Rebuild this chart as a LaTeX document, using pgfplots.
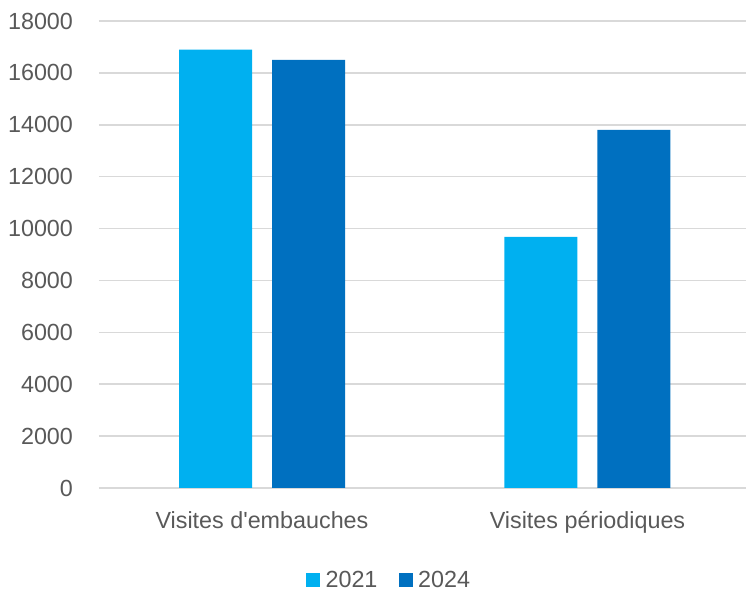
\documentclass[border=0pt]{standalone}
\usepackage{pgfplots}
\pgfplotsset{compat=1.18}
\usepackage{fontspec}
\setmainfont{Liberation Sans}
\definecolor{c21}{HTML}{00B0F0}
\definecolor{c24}{HTML}{0070C0}
\definecolor{txt}{HTML}{595959}
\definecolor{grd}{HTML}{D9D9D9}
\begin{document}
\begin{tikzpicture}
\useasboundingbox (-74.25pt,-77.25pt) rectangle (485.25pt,366pt);
\begin{axis}[
  at={(0,0)}, anchor=south west,
  scale only axis,
  width=485.25pt, height=350.25pt,
  ybar,
  bar width=54.75pt,
  ymin=0, ymax=18000,
  ytick={0,2000,...,18000},
  scaled y ticks=false,
  xmin=-0.5008, xmax=1.487,
  xtick={0,1},
  xticklabels={Visites d\textquotesingle embauches, Visites périodiques},
  axis line style={draw=none},
  major tick length=0pt,
  ymajorgrids,
  grid style={grd, line width=1.2pt},
  tick label style={font=\fontsize{17.5}{21}\selectfont, text=txt},
  /pgf/number format/assume math mode=true,
  /pgf/number format/1000 sep={},
  yticklabel style={xshift=-16pt},
  xticklabel style={yshift=-14pt},
  legend style={at={(0.451,-0.197)}, anchor=center, draw=none,
    legend columns=-1, font=\fontsize{17.5}{21}\selectfont, text=txt,
    /tikz/every even column/.append style={column sep=12pt},
    nodes={inner xsep=4pt},
    inner sep=0pt},
]
\addplot[fill=c21, draw=none, bar shift=-34.875pt,
  legend image code/.code={\fill[c21] (0pt,-5.25pt) rectangle (10.5pt,5.25pt);}]
  coordinates {(0,16900) (1,9680)};
\addplot[fill=c24, draw=none, bar shift=34.875pt,
  legend image code/.code={\fill[c24] (0pt,-5.25pt) rectangle (10.5pt,5.25pt);}]
  coordinates {(0,16500) (1,13800)};
\legend{2021,2024}
\end{axis}
\end{tikzpicture}
\end{document}
